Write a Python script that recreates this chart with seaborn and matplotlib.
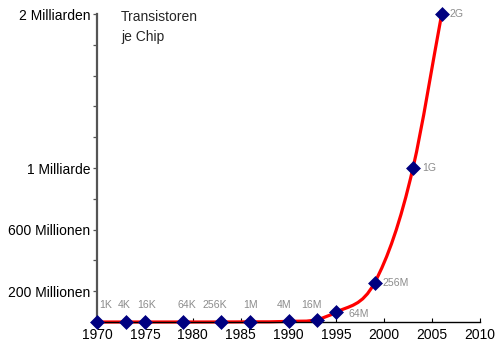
import numpy as np
import seaborn as sns
import matplotlib.pyplot as plt
from matplotlib.path import Path
from matplotlib.patches import PathPatch

years = [1970, 1973, 1975, 1979, 1983, 1986, 1990, 1993, 1995, 1999, 2003, 2006]
transistors = [1e3, 4e3, 16e3, 64e3, 256e3, 1e6, 4e6, 16e6, 64e6, 256e6, 1e9, 2e9]
point_labels = ['1K', '4K', '16K', '64K', '256K', '1M', '4M', '16M', '64M', '256M', '1G', '2G']

xtick_values = list(range(1970, 2011, 5))
ytick_values = [2e8, 4e8, 6e8, 8e8, 1e9, 1.2e9, 1.4e9, 1.6e9, 1.8e9, 2e9]
ytick_labels = ['200 Millionen', '', '600 Millionen', '', '1 Milliarde', '', '', '', '', '2 Milliarden']
title_text = 'Transistoren\nje Chip'

# label placement (offset points, alignment)
label_offsets = [(6.5, 12), (-1, 12), (1.5, 12), (3, 12), (-4.5, 12), (0, 12), (-3, 12),
                 (-4, 10.5), (8.6, -1), (5.8, 0), (6.5, 0), (5.8, 0)]
label_align = ['center'] * 8 + ['left'] * 4

sns.set_theme(style='ticks')
plt.rcParams['font.family'] = ['Liberation Sans', 'DejaVu Sans']

fig = plt.figure(figsize=(4.96, 3.41), dpi=100)
ax = fig.add_axes([97 / 496, 19 / 341, 383 / 496, 308 / 341])

# smooth red curve through the points (cubic Bezier segments)
x = np.array(years, dtype=float)
y = np.array(transistors, dtype=float)
m = np.gradient(y, x)
verts = [(x[0], y[0])]
codes = [Path.MOVETO]
for i in range(len(x) - 1):
    dx = (x[i + 1] - x[i]) / 3
    verts += [(x[i] + dx, y[i] + dx * m[i]),
              (x[i + 1] - dx, y[i + 1] - dx * m[i + 1]),
              (x[i + 1], y[i + 1])]
    codes += [Path.CURVE4] * 3
ax.add_patch(PathPatch(Path(verts, codes), fill=False, edgecolor='red', lw=2.3,
                       capstyle='round', zorder=2, clip_on=False))

sns.scatterplot(x=years, y=transistors, marker='D', s=50, color='#000080',
                edgecolor='#000080', linewidth=0.5, zorder=3, clip_on=False, ax=ax)

for xi, yi, lbl, (ox, oy), ha in zip(years, transistors, point_labels, label_offsets, label_align):
    ax.annotate(lbl, (xi, yi), xytext=(ox, oy), textcoords='offset points',
                ha=ha, va='center', fontsize=7.6, color='#8c8c8c')

ax.set_xlim(1970, 2010)
ax.set_ylim(0, 2e9)
ax.set_xticks(xtick_values)
ax.set_xticklabels([str(v) for v in xtick_values])
ax.set_yticks(ytick_values)
ax.set_yticklabels(ytick_labels)

sns.despine(ax=ax)
ax.spines['left'].set_color('#555555')
ax.spines['left'].set_linewidth(1.6)
ax.spines['bottom'].set_color('black')
ax.spines['bottom'].set_linewidth(1.0)
ax.tick_params(axis='x', direction='in', length=3, width=0.8, pad=4,
               labelsize=10, colors='black')
ax.tick_params(axis='y', direction='out', length=3, width=0.9, pad=2,
               labelsize=10, color='#555555', labelcolor='black')
ax.set_xlabel('')
ax.set_ylabel('')
ax.grid(False)

fig.text(121 / 496, 1 - 10 / 341, title_text, ha='left', va='top', fontsize=10,
         linespacing=1.55)

fig.savefig('out.png', dpi=100)
